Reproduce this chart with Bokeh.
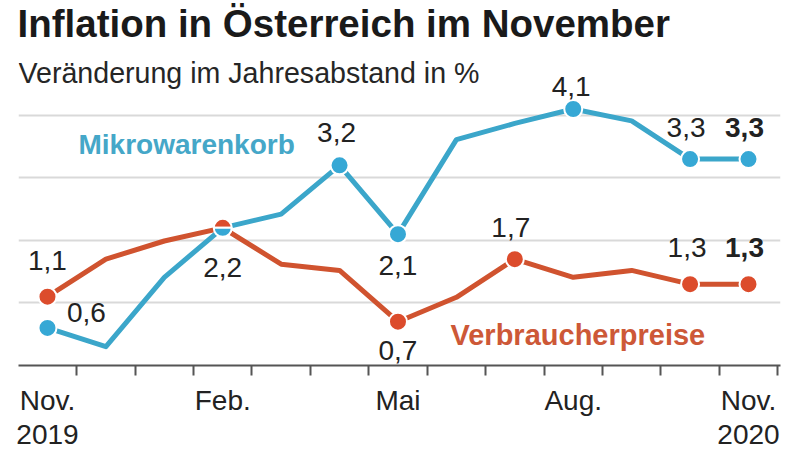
import math
from bokeh.plotting import figure
from bokeh.models import ColumnDataSource, FixedTicker, Range1d, Label, Grid
from bokeh.core.properties import value
from bokeh.embed import file_html
from bokeh.resources import INLINE

# ---------------- data ----------------
months = ["Nov. 2019", "Dez.", "Jän.", "Feb.", "März", "Apr.", "Mai",
          "Juni", "Juli", "Aug.", "Sep.", "Okt.", "Nov. 2020"]
tick_positions = [0, 3, 6, 9, 12]
tick_labels = ["Nov.\n2019", "Feb.", "Mai", "Aug.", "Nov.\n2020"]
mikro = [0.6, 0.3, 1.41, 2.2, 2.42, 3.2, 2.1, 3.61, 3.87, 4.1, 3.91, 3.3, 3.3]
vpi = [1.1, 1.70, 1.99, 2.2, 1.62, 1.52, 0.7, 1.09, 1.7, 1.41, 1.52, 1.3, 1.3]
gridlines = [1, 2, 3, 4]

title = "Inflation in Österreich im November"
subtitle = "Veränderung im Jahresabstand in %"
name_mikro = "Mikrowarenkorb"
name_vpi = "Verbraucherpreise"

# which points carry a dot / a value label (indices into months)
mikro_dots = [0, 5, 6, 9, 11, 12]
vpi_dots = [0, 6, 8, 11, 12]
shared_dot = 3
mikro_lab = [0, 5, 6, 9, 11, 12]
vpi_lab = [0, 3, 6, 8, 11, 12]

# ---------------- styles ----------------
BLUE = "#3ba6ca"
BLUE_DOT = "#36a8d5"
RED = "#d0532f"
RED_DOT = "#dc4c2c"
BLUE_TXT = "#45a7c8"
RED_TXT = "#cd5837"
TXT = "#222222"
FONT = "Liberation Sans"

# label offsets in screen pixels (x, y; y positive = down)
mikro_off = {0: (39, -15), 5: (-3, -33), 6: (0, 31), 9: (-2, -23), 11: (-4, -32), 12: (-4, -32)}
vpi_off = {0: (0, -36), 3: (0, 40), 6: (0, 29), 8: (-4, -32), 11: (-3, -37), 12: (-4, -37)}

x = list(range(len(months)))

p = figure(width=800, height=452, output_backend="svg", toolbar_location=None,
           x_range=Range1d(-0.496, 12.548), y_range=Range1d(0, 367 / 62.9),
           min_border_left=18, min_border_right=20, min_border_top=0,
           min_border_bottom=85, y_axis_location=None)
p.outline_line_color = None
p.background_fill_color = "white"
p.border_fill_color = "white"
p.xgrid.visible = False
p.ygrid.visible = False

p.add_layout(Grid(dimension=1, ticker=FixedTicker(ticks=gridlines),
                  grid_line_color="#d9d9d9", grid_line_width=2))

ax = p.xaxis[0]
ax.ticker = FixedTicker(ticks=tick_positions,
                        minor_ticks=[i - 0.5 for i in range(len(months) + 1)])
ax.major_label_overrides = {t: l for t, l in zip(tick_positions, tick_labels)}
ax.major_tick_line_color = None
ax.major_tick_in = 0
ax.major_tick_out = 10
ax.minor_tick_in = 0
ax.minor_tick_out = 10
ax.minor_tick_line_color = "#555555"
ax.minor_tick_line_width = 2
ax.axis_line_color = "#555555"
ax.axis_line_width = 2
ax.major_label_text_font = FONT
ax.major_label_text_font_size = "28px"
ax.major_label_text_line_height = 1.1
ax.major_label_text_color = TXT
ax.major_label_standoff = 9

# lines
p.line(x, vpi, line_color=RED, line_width=5, line_join="round")
p.line(x, mikro, line_color=BLUE, line_width=5, line_join="round")

# dots
p.scatter([x[i] for i in mikro_dots], [mikro[i] for i in mikro_dots], size=18,
          fill_color=BLUE_DOT, line_color="white", line_width=2)
p.scatter([x[i] for i in vpi_dots], [vpi[i] for i in vpi_dots], size=18,
          fill_color=RED_DOT, line_color="white", line_width=2)
p.wedge([x[shared_dot]], [vpi[shared_dot]], radius=9, radius_units="screen",
        start_angle=0, end_angle=math.pi, fill_color=RED_DOT,
        line_color="white", line_width=2)
p.wedge([x[shared_dot]], [mikro[shared_dot]], radius=9, radius_units="screen",
        start_angle=math.pi, end_angle=2 * math.pi, fill_color=BLUE_DOT,
        line_color="white", line_width=2)

# value labels
def fmt(v):
    return f"{v:.1f}".replace(".", ",")

lx, ly, lt, xo, yo, st = [], [], [], [], [], []
for series, idxs, offs in ((mikro, mikro_lab, mikro_off), (vpi, vpi_lab, vpi_off)):
    for i in idxs:
        lx.append(x[i]); ly.append(series[i]); lt.append(fmt(series[i]))
        xo.append(offs[i][0]); yo.append(offs[i][1])
        st.append("bold" if i == len(months) - 1 else "normal")
src = ColumnDataSource(dict(x=lx, y=ly, text=lt, xo=xo, yo=yo, st=st))
p.text("x", "y", text="text", x_offset="xo", y_offset="yo", text_font_style="st",
       source=src, text_font=value(FONT), text_font_size="28px",
       text_color=TXT, text_align="center", text_baseline="alphabetic")

# titles and series names (screen units relative to plot frame)
p.add_layout(Label(x=-1, y=367 - 25, x_units="screen", y_units="screen", text=title,
                   text_font=FONT, text_font_size="38.5px", text_font_style="bold",
                   text_color="#1a1a1a", text_baseline="alphabetic"))
p.add_layout(Label(x=0, y=367 - 74, x_units="screen", y_units="screen", text=subtitle,
                   text_font=FONT, text_font_size="28.6px", text_color="#262626",
                   text_baseline="alphabetic"))
p.add_layout(Label(x=60, y=367 - 146, x_units="screen", y_units="screen", text=name_mikro,
                   text_font=FONT, text_font_size="28px", text_font_style="bold",
                   text_color=BLUE_TXT, text_baseline="alphabetic"))
p.add_layout(Label(x=432, y=367 - 336, x_units="screen", y_units="screen", text=name_vpi,
                   text_font=FONT, text_font_size="29px", text_font_style="bold",
                   text_color=RED_TXT, text_baseline="alphabetic"))

open("out.html", "w").write(file_html(p, INLINE))
